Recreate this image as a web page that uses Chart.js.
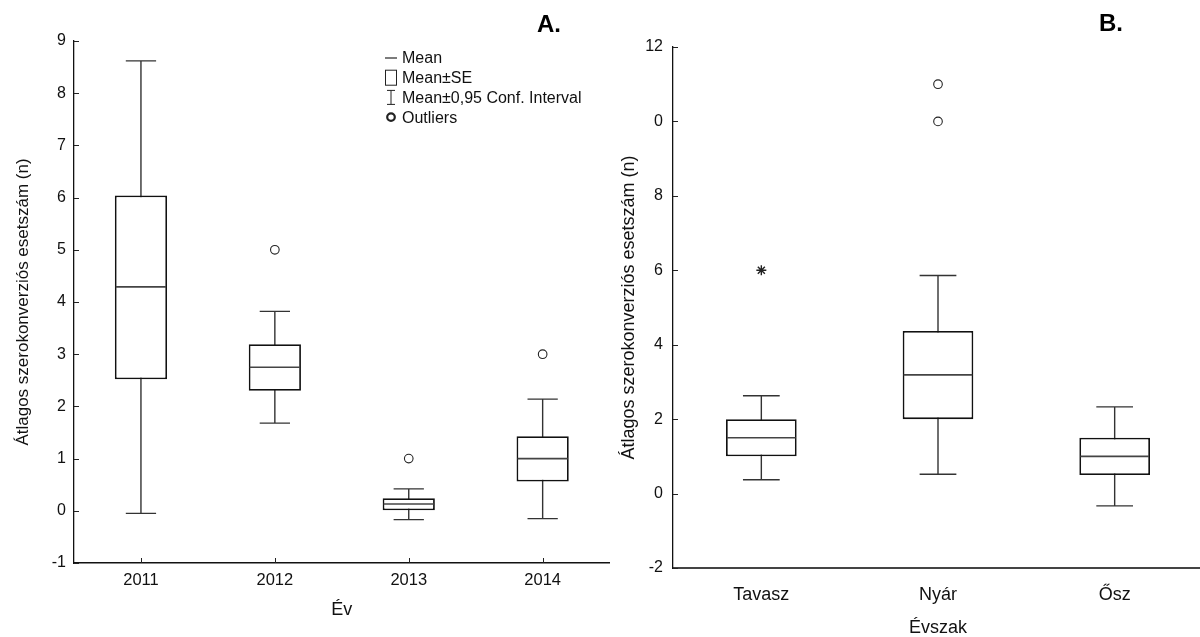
<!DOCTYPE html>
<html>
<head>
<meta charset="utf-8">
<script src="https://cdn.jsdelivr.net/npm/chart.js@4.4.1/dist/chart.umd.min.js"></script>
<style>
html, body { margin: 0; padding: 0; background: #fff; overflow: hidden; width: 1200px; height: 637px; position: relative; }
.wrap { position: absolute; top: 0; height: 640px; }
#wrapA { left: 0; width: 615px; }
#wrapB { left: 600px; width: 620px; }
.tag { position: absolute; font-family: 'Liberation Sans', Arial, sans-serif; font-weight: bold; font-size: 24px; line-height: 1; color: #000; }
</style>
</head>
<body>
<div class="wrap" id="wrapA"><canvas id="boxA" width="615" height="637"></canvas></div>
<div class="wrap" id="wrapB"><canvas id="boxB" width="620" height="640"></canvas></div>
<div class="tag" style="left:537px;top:12px">A.</div>
<div class="tag" style="left:1099px;top:11px">B.</div>
<script>
// A. - by year
const years = ['2011', '2012', '2013', '2014'];
const yearMean = [4.29, 2.75, 0.13, 1.00];
const yearSeLow = [2.52, 2.30, 0.01, 0.56];
const yearSeHigh = [6.04, 3.19, 0.24, 1.43];
const yearCiLow = [-0.05, 1.68, -0.17, -0.15];
const yearCiHigh = [8.62, 3.82, 0.42, 2.14];
const yearOutlierCat = ['2012', '2013', '2014'];
const yearOutlierVal = [5, 1, 3];
const legendA = ['Mean', 'Mean±SE', 'Mean±0,95 Conf. Interval', 'Outliers'];

// B. - by season
const seasons = ['Tavasz', 'Nyár', 'Ősz'];
const seasonMean = [1.50, 3.19, 1.00];
const seasonSeLow = [1.00, 2.00, 0.50];
const seasonSeHigh = [2.00, 4.37, 1.50];
const seasonCiLow = [0.37, 0.52, -0.33];
const seasonCiHigh = [2.63, 5.86, 2.33];
const seasonOutlierCat = ['Nyár', 'Nyár'];
const seasonOutlierVal = [11, 10];
const seasonExtremeCat = ['Tavasz'];
const seasonExtremeVal = [6];
const seasonTickLabels = ['-2', '0', '2', '4', '6', '8', '0', '12'];
const legendB = ['Mean', 'Mean±SE', 'Mean±0,95 Conf. Interval', 'Outliers', 'Extremes'];

const FONT = "'Liberation Sans', Arial, sans-serif";

// whiskers behind the boxes, mean line on top
const boxParts = {
  id: 'boxParts',
  beforeDatasetsDraw(chart, args, opts) {
    const ctx = chart.ctx, y = chart.scales.y;
    const bars = chart.getDatasetMeta(0).data;
    ctx.save();
    ctx.strokeStyle = '#333';
    ctx.lineWidth = 1.4;
    bars.forEach((bar, i) => {
      const cw = bar.width * opts.cap / 2;
      const top = y.getPixelForValue(opts.ciHigh[i]);
      const bot = y.getPixelForValue(opts.ciLow[i]);
      ctx.beginPath();
      ctx.moveTo(bar.x, top); ctx.lineTo(bar.x, bot);
      ctx.moveTo(bar.x - cw, top); ctx.lineTo(bar.x + cw, top);
      ctx.moveTo(bar.x - cw, bot); ctx.lineTo(bar.x + cw, bot);
      ctx.stroke();
    });
    ctx.restore();
  },
  afterDatasetsDraw(chart, args, opts) {
    const ctx = chart.ctx, y = chart.scales.y;
    const bars = chart.getDatasetMeta(0).data;
    ctx.save();
    ctx.strokeStyle = '#444';
    ctx.lineWidth = 1.6;
    bars.forEach((bar, i) => {
      const m = y.getPixelForValue(opts.mean[i]);
      ctx.beginPath();
      ctx.moveTo(bar.x - bar.width / 2 + 1, m); ctx.lineTo(bar.x + bar.width / 2 - 1, m);
      ctx.stroke();
    });
    ctx.restore();
  }
};

// inward tick marks
const innerTicks = {
  id: 'innerTicks',
  afterDraw(chart, args, opts) {
    const ctx = chart.ctx, a = chart.chartArea;
    const x = chart.scales.x, y = chart.scales.y;
    ctx.save();
    ctx.strokeStyle = '#222';
    ctx.lineWidth = 1;
    ctx.beginPath();
    y.ticks.forEach((t, i) => {
      const p = Math.round(y.getPixelForTick(i)) + 0.5;
      ctx.moveTo(a.left, p); ctx.lineTo(a.left + 5, p);
    });
    if (opts.xTicks) {
      x.ticks.forEach((t, i) => {
        const p = Math.round(x.getPixelForTick(i)) + 0.5;
        ctx.moveTo(p, a.bottom); ctx.lineTo(p, a.bottom - 5);
      });
    }
    ctx.stroke();
    ctx.restore();
  }
};

// legend like the statistics package draws it
const boxLegend = {
  id: 'boxLegend',
  afterDraw(chart, args, opts) {
    const ctx = chart.ctx;
    const sx = opts.x, tx = opts.x + 17;
    ctx.save();
    ctx.font = '16px ' + FONT;
    ctx.fillStyle = '#111';
    ctx.textBaseline = 'middle';
    opts.labels.forEach((lab, i) => {
      const yy = opts.y + i * opts.step;
      ctx.strokeStyle = '#222';
      ctx.lineWidth = 1;
      ctx.beginPath();
      if (i === 0) {
        ctx.strokeStyle = '#444';
        ctx.lineWidth = 1.4;
        ctx.moveTo(sx, yy); ctx.lineTo(sx + 12, yy);
        ctx.stroke();
      } else if (i === 1) {
        ctx.strokeRect(sx + 0.5, yy - 7.5, 11, 15);
      } else if (i === 2) {
        ctx.moveTo(sx + 6, yy - 7); ctx.lineTo(sx + 6, yy + 7);
        ctx.moveTo(sx + 2, yy - 7); ctx.lineTo(sx + 10, yy - 7);
        ctx.moveTo(sx + 2, yy + 7); ctx.lineTo(sx + 10, yy + 7);
        ctx.stroke();
      } else if (i === 3) {
        ctx.lineWidth = 2.2;
        ctx.arc(sx + 6, yy, 3.8, 0, Math.PI * 2);
        ctx.stroke();
      } else {
        ctx.lineWidth = 1.4;
        for (let k = 0; k < 4; k++) {
          const an = k * Math.PI / 4;
          ctx.moveTo(sx + 6 - 5 * Math.cos(an), yy - 5 * Math.sin(an));
          ctx.lineTo(sx + 6 + 5 * Math.cos(an), yy + 5 * Math.sin(an));
        }
        ctx.stroke();
      }
      ctx.fillText(lab, tx, yy + 1);
    });
    ctx.restore();
  }
};

function pts(cats, vals) {
  return cats.map((c, i) => ({ x: c, y: vals[i] }));
}

function makeChart(id, c) {
  const datasets = [{
    type: 'bar',
    data: c.seLow.map((v, i) => [v, c.seHigh[i]]),
    backgroundColor: '#fff',
    borderColor: '#111',
    borderWidth: 1.8,
    borderSkipped: false,
    barPercentage: c.barPct,
    categoryPercentage: 1,
    order: 2
  }, {
    type: 'line',
    data: pts(c.outCat, c.outVal),
    showLine: false,
    pointStyle: 'circle',
    pointRadius: 4.3,
    pointBorderWidth: 1.1,
    pointBorderColor: '#222',
    pointBackgroundColor: '#fff',
    order: 1
  }];
  if (c.extCat) {
    datasets.push({
      type: 'line',
      data: pts(c.extCat, c.extVal),
      showLine: false,
      pointStyle: 'star',
      pointRadius: 5,
      pointBorderWidth: 1.4,
      pointBorderColor: '#222',
      order: 1
    });
  }
  return new Chart(document.getElementById(id), {
    data: { labels: c.labels, datasets: datasets },
    plugins: [boxParts, innerTicks, boxLegend],
    options: {
      responsive: false,
      animation: false,
      events: [],
      layout: { padding: c.pad },
      plugins: {
        legend: { display: false },
        tooltip: { enabled: false },
        boxParts: { mean: c.mean, ciLow: c.ciLow, ciHigh: c.ciHigh, cap: c.cap },
        innerTicks: { xTicks: c.xTicks },
        boxLegend: c.legend
      },
      scales: {
        x: {
          type: 'category',
          offset: true,
          grid: { display: false, drawTicks: false },
          border: { display: true, color: c.xAxisColor, width: c.xAxisWidth },
          ticks: { color: '#111', font: { family: FONT, size: c.xTickSize }, padding: c.xLabelPad, maxRotation: 0 },
          title: { display: true, text: c.xTitle, color: '#111', font: { family: FONT, size: 18 }, padding: { top: 0, bottom: c.xTitlePad } },
          afterFit: s => { s.height = c.xHeight; }
        },
        y: {
          type: 'linear',
          min: c.yMin, max: c.yMax,
          grid: { display: false, drawTicks: false },
          border: { display: true, color: '#111', width: 1.3 },
          ticks: {
            stepSize: c.yStep,
            color: '#111',
            font: { family: FONT, size: 16 },
            padding: c.yLabelPad,
            callback: c.tickLabels ? (v, i) => c.tickLabels[i] : (v => v)
          },
          title: { display: true, text: 'Átlagos szerokonverziós esetszám (n)', color: '#111', font: { family: FONT, size: c.yTitleSize }, padding: { top: c.yTitlePad, bottom: 0 } },
          afterFit: s => { s.width = c.yWidth; }
        }
      }
    }
  });
}

makeChart('boxA', {
  labels: years, mean: yearMean, seLow: yearSeLow, seHigh: yearSeHigh,
  ciLow: yearCiLow, ciHigh: yearCiHigh,
  outCat: yearOutlierCat, outVal: yearOutlierVal,
  yMin: -1, yMax: 9, yStep: 1,
  barPct: 0.39, cap: 0.58,
  pad: { top: 41, right: 5, left: 0, bottom: 0 },
  yWidth: 74, xHeight: 74,
  yLabelPad: 8, xLabelPad: 8, yTitlePad: 13, xTitlePad: 16, yTitleSize: 17, xTickSize: 16.5,
  xTitle: 'Év', xTicks: true, xAxisColor: '#111', xAxisWidth: 1.4,
  legend: { x: 385, y: 58, step: 19.7, labels: legendA }
});

makeChart('boxB', {
  labels: seasons, mean: seasonMean, seLow: seasonSeLow, seHigh: seasonSeHigh,
  ciLow: seasonCiLow, ciHigh: seasonCiHigh,
  outCat: seasonOutlierCat, outVal: seasonOutlierVal,
  extCat: seasonExtremeCat, extVal: seasonExtremeVal,
  tickLabels: seasonTickLabels,
  yMin: -2, yMax: 12, yStep: 2,
  barPct: 0.4, cap: 0.52,
  pad: { top: 47, right: 17, left: 0, bottom: 1 },
  yWidth: 73, xHeight: 71,
  yLabelPad: 10, xLabelPad: 16, yTitlePad: 18, xTitlePad: 0, yTitleSize: 18, xTickSize: 18,
  xTitle: 'Évszak', xTicks: false, xAxisColor: '#444', xAxisWidth: 2,
  legend: { x: 696, y: 67, step: 19.6, labels: legendB }
});
</script>
</body>
</html>
